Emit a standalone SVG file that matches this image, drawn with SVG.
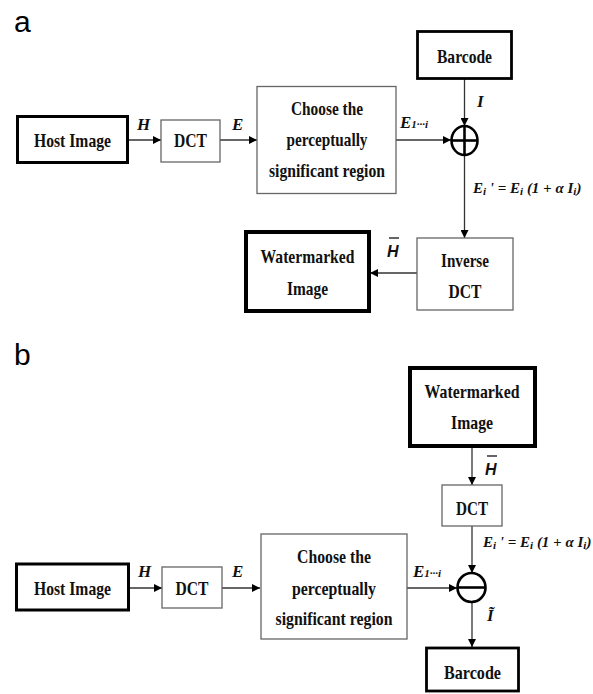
<svg xmlns="http://www.w3.org/2000/svg" width="593" height="694" viewBox="0 0 593 694">
<style>
.bg{fill:#fff}
.thin{fill:#fff;stroke:#666;stroke-width:1.3}
.thick{fill:#fff;stroke:#000}
.t{font-family:"Liberation Serif","Times New Roman",serif;font-weight:bold;font-size:19px;fill:#111;text-anchor:middle}
.lbl{font-family:"Liberation Serif","Times New Roman",serif;font-weight:bold;font-style:italic;font-size:17px;fill:#111}
.f{font-family:"Liberation Serif","Times New Roman",serif;font-weight:bold;font-style:italic;font-size:15px;fill:#111}
.sm{font-size:11px}
.hb{font-family:"Liberation Sans",Arial,sans-serif;font-weight:bold;font-style:italic;font-size:16px;fill:#111}
.panel{font-family:"Liberation Sans",Arial,sans-serif;font-size:30px;fill:#000}
.c{fill:none;stroke:#333;stroke-width:1.3}
.op{fill:#fff;stroke:#000;stroke-width:2.6}
</style>
<defs>
<marker id="ah" viewBox="0 0 10 10" refX="10" refY="5" markerWidth="9" markerHeight="8" markerUnits="userSpaceOnUse" orient="auto">
<path d="M0,0 L10,5 L0,10 z" fill="#000"/>
</marker>
</defs>
<rect class="bg" x="0" y="0" width="593" height="694"/>

<text class="panel" x="14" y="32">a</text>
<text class="panel" x="14" y="365">b</text>

<g id="connectors">
<line class="c" x1="128" y1="140" x2="161" y2="140" marker-end="url(#ah)"/>
<line class="c" x1="220" y1="140" x2="257" y2="140" marker-end="url(#ah)"/>
<line class="c" x1="396" y1="140" x2="451" y2="140" marker-end="url(#ah)"/>
<line class="c" x1="464.5" y1="79" x2="464.5" y2="126" marker-end="url(#ah)"/>
<line class="c" x1="464.5" y1="155" x2="464.5" y2="238" marker-end="url(#ah)"/>
<line class="c" x1="417" y1="273" x2="370" y2="273" marker-end="url(#ah)"/>

<line class="c" x1="472" y1="447" x2="472" y2="485" marker-end="url(#ah)"/>
<line class="c" x1="472" y1="526" x2="472" y2="573" marker-end="url(#ah)"/>
<line class="c" x1="129" y1="588" x2="162" y2="588" marker-end="url(#ah)"/>
<line class="c" x1="222" y1="588" x2="260" y2="588" marker-end="url(#ah)"/>
<line class="c" x1="407" y1="588" x2="457" y2="588" marker-end="url(#ah)"/>
<line class="c" x1="472" y1="602" x2="472" y2="647" marker-end="url(#ah)"/>
</g>

<g id="labels">
<text class="lbl" x="137" y="130">H</text>
<text class="lbl" x="232" y="130">E</text>
<text class="lbl" x="400" y="128">E<tspan class="sm">1···i</tspan></text>
<text class="lbl" x="477" y="107">I</text>
<text class="f" x="473" y="193">E<tspan class="sm" dy="2">i</tspan><tspan dy="-2"> ' = E</tspan><tspan class="sm" dy="2">i</tspan><tspan dy="-2"> (1 + α I</tspan><tspan class="sm" dy="2">i</tspan><tspan dy="-2">)</tspan></text>
<text class="hb" x="387" y="257">H</text>
<line x1="389" y1="238" x2="399" y2="238" stroke="#111" stroke-width="1.3"/>

<text class="hb" x="485" y="475">H</text>
<line x1="487" y1="456" x2="497" y2="456" stroke="#111" stroke-width="1.3"/>
<text class="lbl" x="138" y="577">H</text>
<text class="lbl" x="232" y="577">E</text>
<text class="lbl" x="413" y="577">E<tspan class="sm">1···i</tspan></text>
<text class="f" x="483" y="547">E<tspan class="sm" dy="2">i</tspan><tspan dy="-2"> ' = E</tspan><tspan class="sm" dy="2">i</tspan><tspan dy="-2"> (1 + α I</tspan><tspan class="sm" dy="2">i</tspan><tspan dy="-2">)</tspan></text>
<text class="lbl" x="487" y="621">Ĩ</text>
</g>

<g id="a-host">
<rect class="thick" x="17.5" y="116.5" width="110" height="46" stroke-width="3"/>
<text class="t" x="72.5" y="147" textLength="77" lengthAdjust="spacingAndGlyphs">Host Image</text>
</g>
<g id="a-dct">
<rect class="thin" x="161" y="120" width="59" height="42"/>
<text class="t" x="190.5" y="147" textLength="33" lengthAdjust="spacingAndGlyphs">DCT</text>
</g>
<g id="a-choose">
<rect class="thin" x="257" y="86.5" width="139" height="107"/>
<text class="t" x="327" y="115" textLength="72" lengthAdjust="spacingAndGlyphs">Choose the</text>
<text class="t" x="327" y="146" textLength="81" lengthAdjust="spacingAndGlyphs">perceptually</text>
<text class="t" x="327" y="177" textLength="116" lengthAdjust="spacingAndGlyphs">significant region</text>
</g>
<g id="a-barcode">
<rect class="thick" x="417.5" y="31.5" width="94" height="47" stroke-width="2.8"/>
<text class="t" x="464.5" y="63" textLength="55" lengthAdjust="spacingAndGlyphs">Barcode</text>
</g>
<g id="a-add">
<ellipse class="op" cx="464.5" cy="140.5" rx="13" ry="14.5"/>
<line x1="451.5" y1="140.5" x2="477.5" y2="140.5" stroke="#000" stroke-width="2.6"/>
<line x1="464.5" y1="126" x2="464.5" y2="155" stroke="#000" stroke-width="2.6"/>
</g>
<g id="a-idct">
<rect class="thin" x="417" y="238" width="96" height="72"/>
<text class="t" x="465" y="267" textLength="48" lengthAdjust="spacingAndGlyphs">Inverse</text>
<text class="t" x="465" y="298" textLength="33" lengthAdjust="spacingAndGlyphs">DCT</text>
</g>
<g id="a-watermarked">
<rect class="thick" x="246" y="232" width="123" height="79" stroke-width="4"/>
<text class="t" x="307.5" y="263" textLength="94" lengthAdjust="spacingAndGlyphs">Watermarked</text>
<text class="t" x="307.5" y="295" textLength="41" lengthAdjust="spacingAndGlyphs">Image</text>
</g>

<g id="b-watermarked">
<rect class="thick" x="410" y="368" width="125" height="78" stroke-width="4"/>
<text class="t" x="472" y="398" textLength="95" lengthAdjust="spacingAndGlyphs">Watermarked</text>
<text class="t" x="472" y="429" textLength="42" lengthAdjust="spacingAndGlyphs">Image</text>
</g>
<g id="b-dct2">
<rect class="thin" x="442" y="485" width="60" height="41"/>
<text class="t" x="472" y="515" textLength="32" lengthAdjust="spacingAndGlyphs">DCT</text>
</g>
<g id="b-host">
<rect class="thick" x="16.5" y="564" width="112" height="46" stroke-width="3"/>
<text class="t" x="72.5" y="595" textLength="77" lengthAdjust="spacingAndGlyphs">Host Image</text>
</g>
<g id="b-dct">
<rect class="thin" x="162" y="567" width="60" height="41"/>
<text class="t" x="192" y="595" textLength="33" lengthAdjust="spacingAndGlyphs">DCT</text>
</g>
<g id="b-choose">
<rect class="thin" x="261" y="534" width="146" height="105"/>
<text class="t" x="334" y="563" textLength="74" lengthAdjust="spacingAndGlyphs">Choose the</text>
<text class="t" x="334" y="595" textLength="84" lengthAdjust="spacingAndGlyphs">perceptually</text>
<text class="t" x="334" y="625" textLength="117" lengthAdjust="spacingAndGlyphs">significant region</text>
</g>
<g id="b-sub">
<ellipse class="op" cx="471.5" cy="587.5" rx="14" ry="14.5"/>
<line x1="457.5" y1="587.5" x2="485.5" y2="587.5" stroke="#000" stroke-width="2.6"/>
</g>
<g id="b-barcode">
<rect class="thick" x="426.5" y="648" width="92" height="43" stroke-width="2.8"/>
<text class="t" x="472.5" y="679" textLength="57" lengthAdjust="spacingAndGlyphs">Barcode</text>
</g>
</svg>
